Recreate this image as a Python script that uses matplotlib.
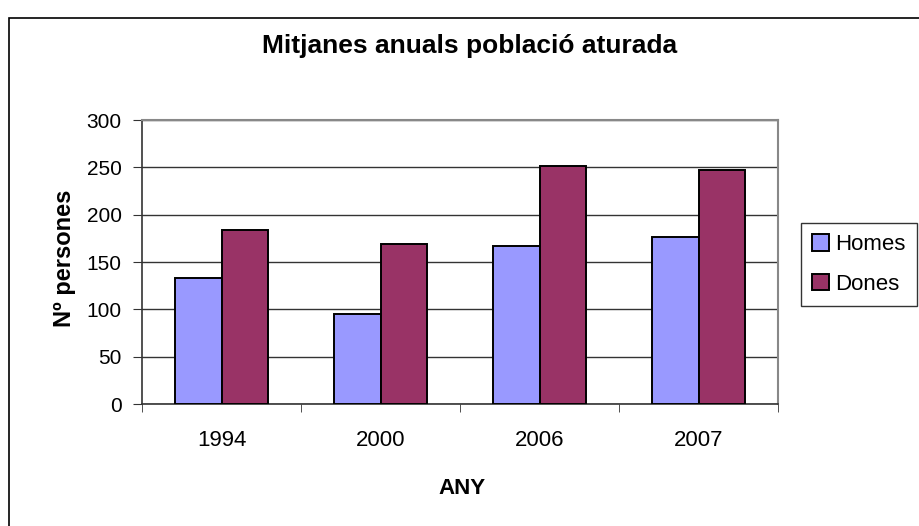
import matplotlib.pyplot as plt
import numpy as np
from matplotlib.patches import Rectangle

plt.rcParams['font.family'] = ['Liberation Sans', 'DejaVu Sans']

years = ['1994', '2000', '2006', '2007']
homes = [133, 95, 167, 176]
dones = [184, 169, 251, 247]

fig = plt.figure(figsize=(9.19, 5.26), dpi=100)
W, H = 919, 526
ax = fig.add_axes([142 / W, 1 - 404 / H, (778 - 142) / W, (404 - 120) / H])

x = np.arange(len(years))
bw = 0.29
ax.bar(x - bw / 2, homes, bw, color='#9999ff', edgecolor='black', linewidth=1.4, label='Homes', zorder=3)
ax.bar(x + bw / 2, dones, bw, color='#993366', edgecolor='black', linewidth=1.4, label='Dones', zorder=3)

ax.set_xlim(-0.5, 3.5)
ax.set_ylim(0, 300)
ax.set_yticks(range(0, 301, 50))
ax.yaxis.grid(True, color='#333333', linewidth=1.0, zorder=0)
ax.set_xticks(x)
ax.set_xticklabels(years)
ax.set_xticks(np.arange(-0.5, 4, 1), minor=True)
ax.tick_params(axis='x', which='major', length=0, pad=19, labelsize=16)
ax.tick_params(axis='x', which='minor', length=6, direction='out', color='#333333')
ax.tick_params(axis='y', length=6.5, direction='out', color='#333333', labelsize=15, pad=8)

for side in ['top', 'right']:
    ax.spines[side].set_color('#888888')
    ax.spines[side].set_linewidth(1.5)
for side in ['left', 'bottom']:
    ax.spines[side].set_color('#333333')
    ax.spines[side].set_linewidth(1.2)

fig.text(462 / W, 1 - 488 / H, 'ANY', fontsize=16, fontweight='bold', ha='center', va='center')
fig.text(64 / W, 1 - 258 / H, 'Nº persones', fontsize=17, fontweight='bold', ha='center', va='center',
         rotation=90)
fig.text(470 / W, 1 - 46 / H, 'Mitjanes anuals població aturada', fontsize=19, fontweight='bold',
         ha='center', va='center')

leg = ax.legend(loc='upper left', bbox_to_anchor=(801 / W, 1 - 223 / H), bbox_transform=fig.transFigure,
                fontsize=16, frameon=True, fancybox=False, edgecolor='black', handlelength=0.75,
                handleheight=0.75, handletextpad=0.3, borderpad=0.5, labelspacing=0.85, borderaxespad=0)
leg.get_frame().set_linewidth(1.0)
for h in leg.legend_handles:
    h.set_linewidth(1.4)

fig.patches.append(Rectangle((9 / W, -0.5), 1.5, 1.5 - 18 / H, transform=fig.transFigure,
                             fill=False, edgecolor='black', linewidth=1.2))

fig.savefig('out.png', dpi=100)
